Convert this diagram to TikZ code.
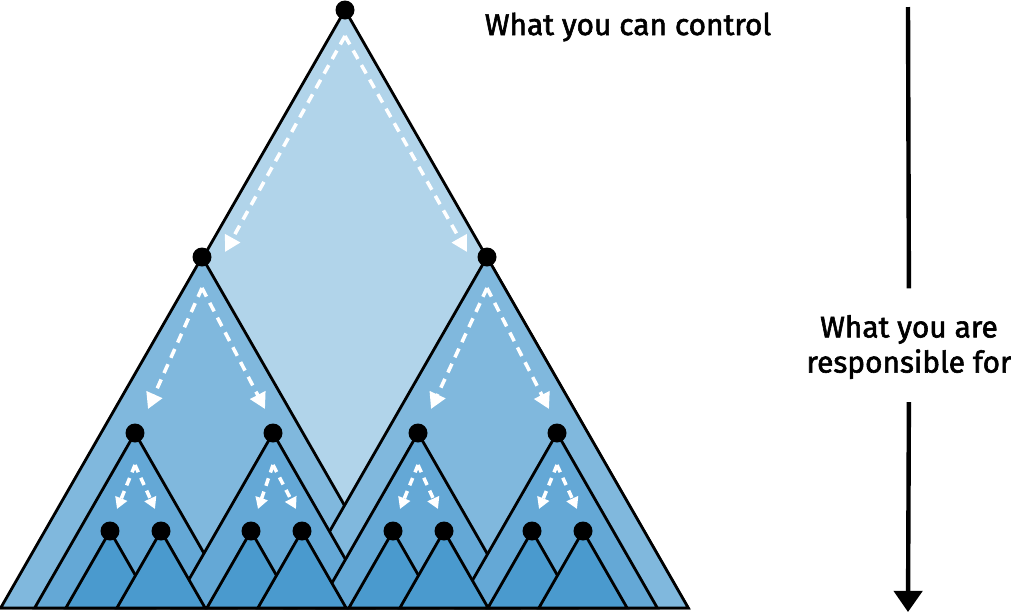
\documentclass[tikz,border=0pt]{standalone}
\usepackage{fontspec}
\setmainfont{Fira Sans}[FakeBold=2]
\usetikzlibrary{arrows.meta, positioning, backgrounds, calc}
\definecolor{lvone}{RGB}{177,212,234}
\definecolor{lvtwo}{RGB}{128,184,221}
\definecolor{lvthree}{RGB}{100,168,214}
\definecolor{lvfour}{RGB}{74,154,206}
\tikzset{
  vertex/.style    = {circle, fill=black, inner sep=0pt, minimum size=0.38cm},
  tri/.style       = {draw=black, line width=1.6pt, line join=miter},
  flow/.style      = {-{Triangle[length=9pt, width=9.5pt]}, white, line width=2pt,
                      dash pattern=on 5.5pt off 4pt},
  smallflow/.style = {flow, -{Triangle[length=6.5pt, width=7pt]},
                      dash pattern=on 4.5pt off 3.5pt},
  txt/.style       = {font=\fontsize{17}{20}\selectfont, inner sep=0pt, align=center},
  vline/.style     = {line width=2.5pt},
}
\begin{document}
\begin{tikzpicture}[x=0.02cm, y=-0.02cm]
  \useasboundingbox (0,0) rectangle (1011,613);
  % tree nodes
  \node[vertex] (n0) at (345,10) {};
  \node[vertex] (n1) at (202,257) {};
  \node[vertex] (n2) at (487,257) {};
  \foreach \n/\x in {n11/135, n12/273, n21/418, n22/557}
    \node[vertex] (\n) at (\x,433) {};
  \foreach \n/\x in {n111/110, n112/161, n121/251, n122/302,
                     n211/393, n212/444, n221/532, n222/583}
    \node[vertex] (\n) at (\x,531) {};

  % triangles, one level after the other
  \begin{scope}[on background layer]
    \foreach \n/\h/\c in {n0/598/lvone, n1/351/lvtwo, n2/351/lvtwo,
                          n11/175/lvthree, n12/175/lvthree, n21/175/lvthree, n22/175/lvthree,
                          n111/77/lvfour, n112/77/lvfour, n121/77/lvfour, n122/77/lvfour,
                          n211/77/lvfour, n212/77/lvfour, n221/77/lvfour, n222/77/lvfour}
      \filldraw[tri, fill=\c] (\n.center) -- ++({-0.5736*\h},\h) -- ++({1.1472*\h},0) -- cycle;
  \end{scope}

  % dashed arrows down the tree
  \foreach \n/\d in {n0/26, n1/31, n2/31, n11/32, n12/32, n21/32, n22/32}
    \coordinate (\n-s) at ($(\n)+(0,\d)$);
  \draw[flow] (n0-s) -- ($(n1)+(23,-5)$);
  \draw[flow] (n0-s) -- ($(n2)+(-20,-5)$);
  \foreach \p/\a/\b in {n1/n11/n12, n2/n21/n22} {
    \draw[flow] (\p-s) -- ($(\a)+(13,-24)$);
    \draw[flow] (\p-s) -- ($(\b)+(-8,-24)$);
  }
  \foreach \p/\a/\b in {n11/n111/n112, n12/n121/n122, n21/n211/n212, n22/n221/n222} {
    \draw[smallflow] (\p-s) -- ($(\a)+(7,-22)$);
    \draw[smallflow] (\p-s) -- ($(\b)+(-6,-22)$);
  }

  % right side
  \node[txt] (ctrl) at (628,27) {What you can control};
  \node[txt] (resp) at (909,347) {What you are\\responsible for};
  \coordinate (vtop) at (908,7);
  \coordinate (vbot) at (908,612);
  \draw[vline, shorten >=15pt] (vtop) -- (resp.north);
  \draw[vline, -{Triangle[length=12pt, width=16pt]}, shorten <=13pt] (resp.south) -- (vbot);
\end{tikzpicture}
\end{document}
